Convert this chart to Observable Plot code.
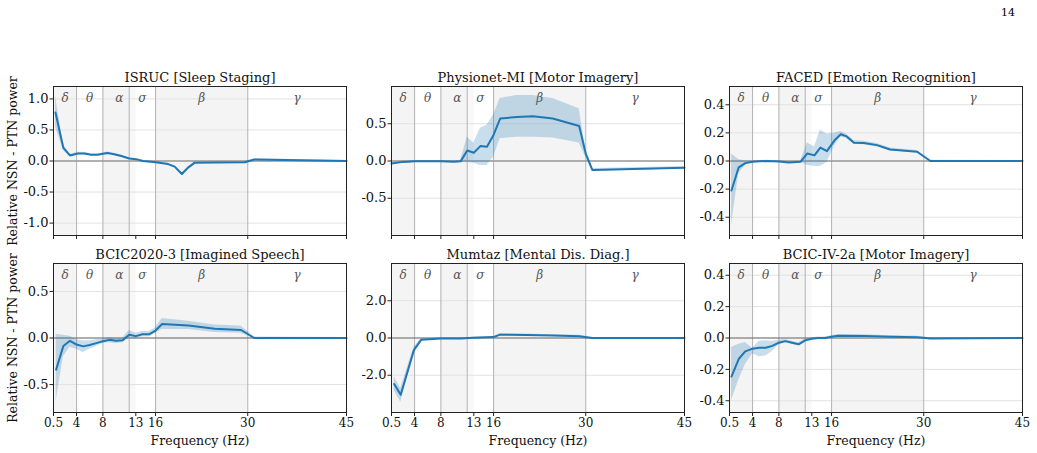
<!DOCTYPE html>
<html>
<head>
<meta charset="utf-8">
<script src="https://cdn.jsdelivr.net/npm/d3@7"></script>
<script src="https://cdn.jsdelivr.net/npm/@observablehq/plot@0.6"></script>
<style>
  html, body { margin: 0; padding: 0; background: #fff; }
  #root { position: relative; width: 1037px; height: 453px; overflow: hidden; font-family: "DejaVu Serif", serif; }
  .panel { position: absolute; }
  #pagenum { position: absolute; left: 1001px; top: 6px; font-size: 11px; font-family: "DejaVu Serif", serif; }
</style>
</head>
<body>
<div id="root"><div id="pagenum">14</div></div>
<script>
// ---- band definitions ----
const bandLabels = ["δ", "θ", "α", "σ", "β", "γ"];
const bandStart = [0.5, 4, 8, 12, 16, 30];
const bandEnd = [4, 8, 13, 16, 30, 45];
const bandShade = ["#f4f4f4", null, "#f4f4f4", null, "#f4f4f4", null];
const bandEdges = [4, 8, 12, 16, 30];
const xTicks = [0.5, 4, 8, 13, 16, 30, 45];

// ---- ISRUC [Sleep Staging] ----
const isrucFreq = [0.8, 2, 3, 4.2, 5.2, 6.2, 7.2, 8.7, 9.7, 10.8, 12, 13, 14.1, 16, 17.9, 18.9, 20, 20.9, 21.9, 25, 29.6, 31, 45];
const isrucMean = [0.78, 0.21, 0.09, 0.12, 0.12, 0.10, 0.10, 0.13, 0.11, 0.08, 0.04, 0.03, 0.0, -0.02, -0.05, -0.09, -0.21, -0.11, -0.03, -0.025, -0.02, 0.025, 0.0];
const isrucLo = [0.55, 0.17, 0.07, 0.10, 0.10, 0.085, 0.085, 0.115, 0.095, 0.065, 0.03, 0.02, -0.01, -0.03, -0.065, -0.105, -0.23, -0.125, -0.04, -0.035, -0.03, 0.015, -0.01];
const isrucHi = [1.05, 0.26, 0.11, 0.14, 0.14, 0.115, 0.115, 0.145, 0.125, 0.095, 0.05, 0.04, 0.01, -0.01, -0.035, -0.075, -0.19, -0.095, -0.02, -0.015, -0.01, 0.035, 0.01];

// ---- Physionet-MI [Motor Imagery] ----
const physioFreq = [0.5, 2, 3, 4, 6, 8, 10, 11, 12, 13, 14, 15, 16, 17, 19.5, 22, 25, 29, 30, 31, 45];
const physioMean = [-0.035, -0.015, -0.01, -0.005, -0.005, -0.005, -0.01, -0.005, 0.14, 0.11, 0.20, 0.19, 0.35, 0.57, 0.59, 0.60, 0.57, 0.47, 0.10, -0.12, -0.09];
const physioLo = [-0.05, -0.025, -0.02, -0.015, -0.015, -0.015, -0.02, -0.02, -0.02, -0.03, -0.06, -0.06, 0.05, 0.30, 0.32, 0.32, 0.31, 0.24, 0.05, -0.14, -0.105];
const physioHi = [-0.02, -0.005, 0.0, 0.005, 0.005, 0.005, 0.0, 0.01, 0.32, 0.24, 0.44, 0.48, 0.62, 0.84, 0.88, 0.88, 0.84, 0.70, 0.15, -0.10, -0.075];

// ---- FACED [Emotion Recognition] ----
const facedFreq = [0.8, 1.9, 2.9, 4, 6, 8, 9.5, 11.3, 12.3, 13.4, 14.3, 15.3, 16.5, 17.4, 18.3, 19.4, 20.9, 22.9, 24.9, 29, 31, 45];
const facedMean = [-0.21, -0.045, -0.015, -0.005, 0.0, -0.003, -0.01, -0.005, 0.053, 0.04, 0.095, 0.07, 0.15, 0.19, 0.175, 0.13, 0.128, 0.113, 0.082, 0.066, 0.0, 0.0];
const facedLo = [-0.46, -0.09, -0.03, -0.01, -0.005, -0.008, -0.015, -0.01, -0.03, -0.04, -0.04, -0.01, 0.11, 0.17, 0.16, 0.12, 0.115, 0.10, 0.072, 0.058, -0.005, -0.003];
const facedHi = [0.05, 0.01, 0.0, 0.0, 0.005, 0.002, -0.005, 0.0, 0.13, 0.10, 0.22, 0.19, 0.20, 0.21, 0.19, 0.145, 0.14, 0.125, 0.092, 0.075, 0.005, 0.003];

// ---- BCIC2020-3 [Imagined Speech] ----
const speechFreq = [0.9, 2, 3, 4, 5, 6, 7, 8, 9, 10, 11, 12, 13, 14, 15, 16, 17, 21, 25, 29, 31, 45];
const speechMean = [-0.34, -0.085, -0.03, -0.07, -0.09, -0.075, -0.055, -0.035, -0.02, -0.03, -0.025, 0.035, 0.02, 0.04, 0.04, 0.08, 0.15, 0.135, 0.10, 0.086, 0.0, 0.0];
const speechLo = [-0.68, -0.2, -0.1, -0.12, -0.155, -0.12, -0.09, -0.06, -0.05, -0.06, -0.05, 0.0, -0.01, 0.01, 0.01, 0.05, 0.09, 0.09, 0.06, 0.05, -0.01, -0.005];
const speechHi = [0.04, 0.03, 0.02, -0.02, -0.03, -0.03, -0.02, -0.01, 0.005, -0.005, 0.0, 0.08, 0.05, 0.07, 0.07, 0.11, 0.21, 0.18, 0.14, 0.13, 0.01, 0.005];

// ---- Mumtaz [Mental Dis. Diag.] ----
const mumtazFreq = [0.9, 1.9, 3.9, 5, 8, 11, 13, 16, 17, 21, 25, 29, 31, 45];
const mumtazMean = [-2.47, -3.05, -0.65, -0.1, -0.03, -0.03, 0.02, 0.05, 0.18, 0.16, 0.13, 0.1, 0.0, 0.0];
const mumtazLo = [-2.8, -3.45, -0.8, -0.15, -0.06, -0.06, -0.01, 0.02, 0.12, 0.11, 0.08, 0.05, -0.03, -0.03];
const mumtazHi = [-2.1, -2.7, -0.5, -0.05, 0.0, 0.0, 0.05, 0.08, 0.24, 0.21, 0.18, 0.15, 0.03, 0.03];

// ---- BCIC-IV-2a [Motor Imagery] ----
const bcicFreq = [0.8, 1.9, 2.9, 4, 5, 6, 7, 8, 9, 10, 11, 12, 13, 14, 15, 16, 17, 21, 25, 29, 31, 45];
const bcicMean = [-0.246, -0.134, -0.085, -0.068, -0.062, -0.062, -0.05, -0.03, -0.02, -0.03, -0.04, -0.015, -0.005, 0.0, 0.0, 0.008, 0.015, 0.013, 0.008, 0.005, -0.003, 0.0];
const bcicLo = [-0.40, -0.27, -0.17, -0.10, -0.12, -0.115, -0.086, -0.045, -0.03, -0.04, -0.05, -0.025, -0.012, -0.006, -0.006, 0.0, 0.008, 0.006, 0.002, -0.001, -0.008, -0.004];
const bcicHi = [-0.06, -0.04, -0.028, -0.065, -0.02, -0.017, -0.02, -0.015, -0.01, -0.02, -0.03, -0.005, 0.002, 0.006, 0.006, 0.015, 0.022, 0.02, 0.014, 0.011, 0.002, 0.004];

// ---- panel configuration ----
const titles = ["ISRUC [Sleep Staging]", "Physionet-MI [Motor Imagery]", "FACED [Emotion Recognition]",
                "BCIC2020-3 [Imagined Speech]", "Mumtaz [Mental Dis. Diag.]", "BCIC-IV-2a [Motor Imagery]"];
const series = [
  [isrucFreq, isrucMean, isrucLo, isrucHi],
  [physioFreq, physioMean, physioLo, physioHi],
  [facedFreq, facedMean, facedLo, facedHi],
  [speechFreq, speechMean, speechLo, speechHi],
  [mumtazFreq, mumtazMean, mumtazLo, mumtazHi],
  [bcicFreq, bcicMean, bcicLo, bcicHi]
];
const yDomains = [[-1.2, 1.2], [-1.0, 1.0], [-0.53, 0.53], [-0.8, 0.8], [-4, 4], [-0.475, 0.475]];
const yTickSets = [[-1, -0.5, 0, 0.5, 1], [-0.5, 0, 0.5], [-0.4, -0.2, 0, 0.2, 0.4],
                   [-0.5, 0, 0.5], [-2, 0, 2], [-0.4, -0.2, 0, 0.2, 0.4]];
const yLabel = "Relative NSN - PTN power";
const xLabel = "Frequency (Hz)";

// layout (frame positions in page pixels)
const frameLeft = [53, 391, 729];
const frameTop = [86, 263];
const frameW = 293, frameH = 149;
const mL = 50, mR = 10, mT = 25, mB = 45;

const root = document.getElementById("root");
const bandRows = bandLabels.map((b, i) => ({label: b, x1: bandStart[i], x2: bandEnd[i], fill: bandShade[i]}));

titles.forEach((title, k) => {
  const col = k % 3, row = Math.floor(k / 3);
  const [freq, mean, lo, hi] = series[k];
  const data = freq.map((f, i) => ({f, m: mean[i], lo: lo[i], hi: hi[i]}));
  const bottom = row === 1;
  const marks = [
    Plot.rect(bandRows.filter(d => d.fill), {x1: "x1", x2: "x2", fill: "fill"}),
    Plot.rect([{x1: 12, x2: 13}], {x1: "x1", x2: "x2", fill: "#f8f8f8"}),
    Plot.gridY({ticks: yTickSets[k], stroke: "#e2e2e2", strokeOpacity: 1, strokeWidth: 1}),
    Plot.ruleX(bandEdges, {stroke: "#b8b8b8", strokeWidth: 1.1}),
    Plot.ruleY([0], {stroke: bottom ? "#6a6a6a" : "#9a9a9a", strokeWidth: bottom ? 1.2 : 1.6}),
    Plot.areaY(data, {x: "f", y1: "lo", y2: "hi", fill: "#1f77b4", fillOpacity: 0.24}),
    Plot.lineY(data, {x: "f", y: "m", stroke: "#1f77b4", strokeWidth: 2}),
    Plot.frame({stroke: "#222", strokeWidth: 1}),
    Plot.text(bandRows, {x: d => (d.x1 + d.x2) / 2, text: "label", frameAnchor: "top", dy: 11.5,
      lineAnchor: "middle", fontStyle: "italic", fill: "#555", fontSize: 12}),
    Plot.text([title], {frameAnchor: "top", dy: -8.5, lineAnchor: "middle", textAnchor: "middle",
      fontSize: 13, fill: "#111"}),
    Plot.axisY({ticks: yTickSets[k], tickSize: 3.5, tickPadding: 1.5, tickFormat: d => d.toFixed(1),
      fontSize: 13, label: null, stroke: "#222", fill: "#111"}),
    Plot.axisX({ticks: xTicks, tickSize: 4, tickPadding: 1.5, label: null, fontSize: 12,
      tickFormat: bottom ? (d => String(d)) : (() => ""), stroke: "#222", fill: "#111"})
  ];
  if (bottom) marks.push(Plot.text([xLabel], {frameAnchor: "bottom", dy: 28, lineAnchor: "middle",
    textAnchor: "middle", fontSize: 12.5, fill: "#111"}));
  if (col === 0) marks.push(Plot.text([yLabel], {frameAnchor: "left", dx: -41, rotate: -90,
    textAnchor: "middle", lineAnchor: "middle", fontSize: 12.5, fill: "#111"}));

  const chart = Plot.plot({
    width: mL + frameW + mR,
    height: mT + frameH + mB,
    marginLeft: mL, marginRight: mR, marginTop: mT, marginBottom: mB,
    x: {type: "linear", domain: [0.5, 45]},
    y: {type: "linear", domain: yDomains[k]},
    style: {fontFamily: "DejaVu Serif", background: "transparent", overflow: "visible"},
    marks
  });
  const div = document.createElement("div");
  div.className = "panel";
  div.style.left = (frameLeft[col] - mL) + "px";
  div.style.top = (frameTop[row] - mT) + "px";
  div.appendChild(chart);
  root.appendChild(div);
});
</script>
</body>
</html>
